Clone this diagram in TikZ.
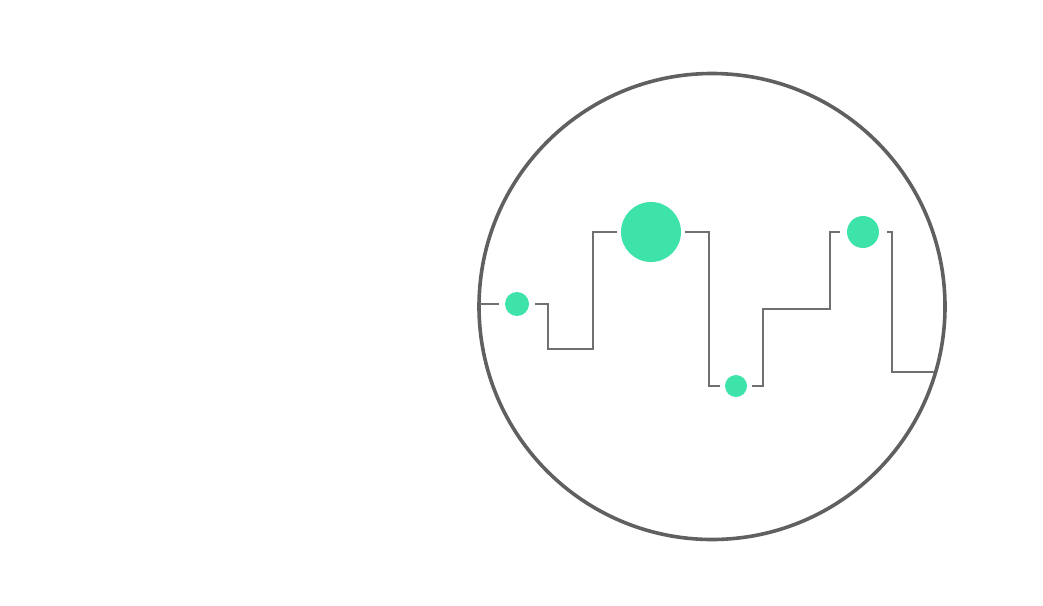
\documentclass[tikz,border=0pt]{standalone}
\definecolor{ringgray}{HTML}{606060}
\definecolor{wiregray}{HTML}{707070}
\definecolor{dotgreen}{HTML}{3DE3A8}
\tikzset{
  dot/.style={circle,fill=dotgreen,inner sep=0pt,outer sep=#1},
  wire/.style={wiregray,line width=1.8pt}
}
\begin{document}
\begin{tikzpicture}[x=1pt,y=-1pt]
\useasboundingbox (0,0) rectangle (1043,605);
\draw[ringgray,line width=3.6pt] (712,306.5) circle (233pt);
\coordinate (in) at (480,304);
\coordinate (out) at (934,372);
\node[dot=6pt,minimum size=24pt] (d1) at (517,304) {};
\node[dot=4pt,minimum size=60pt] (d2) at (651,232) {};
\node[dot=5pt,minimum size=22pt] (d3) at (736,386) {};
\node[dot=7.5pt,minimum size=32pt] (d4) at (863,232) {};
\draw[wire] (in) -- (d1);
\draw[wire] (d1) -- ++(31,0) -- ++(0,45) -- ++(45,0) |- (d2);
\draw[wire] (d2) -- ++(58,0) |- (d3);
\draw[wire] (d3) -- ++(27,0) -- ++(0,-77) -- ++(67,0) |- (d4);
\draw[wire] (d4) -- ++(29,0) |- (out);
\end{tikzpicture}
\end{document}
